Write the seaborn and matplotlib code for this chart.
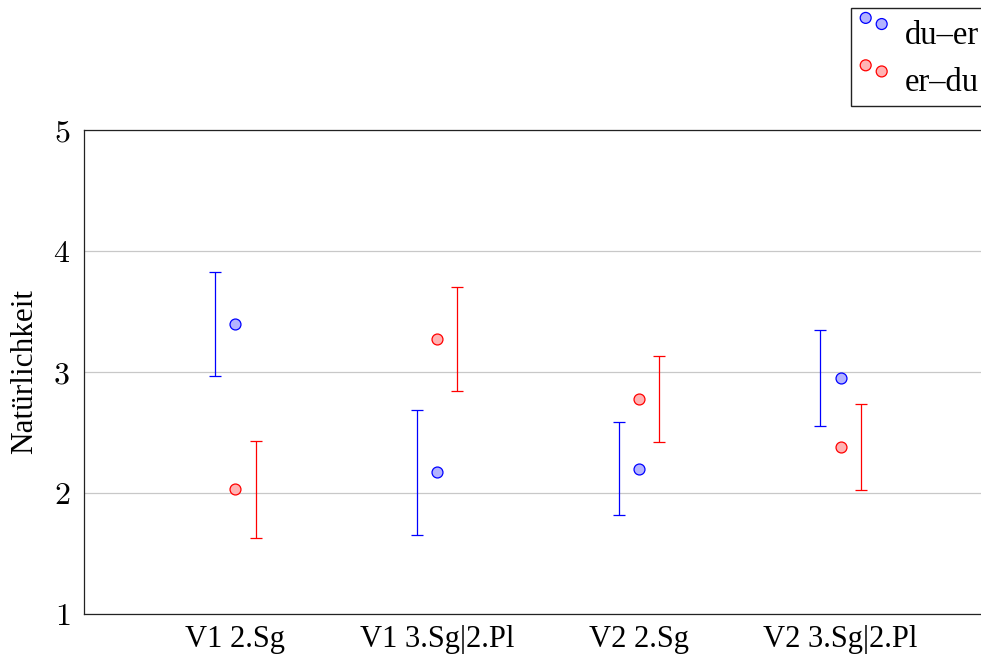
import numpy as np
import pandas as pd
import seaborn as sns
import matplotlib.pyplot as plt

# values
conditions = ["V1 2.Sg", "V1 3.Sg|2.Pl", "V2 2.Sg", "V2 3.Sg|2.Pl"]
du_er_mean = [3.40, 2.17, 2.20, 2.95]
du_er_err = [0.43, 0.52, 0.385, 0.40]
er_du_mean = [2.03, 3.27, 2.78, 2.38]
er_du_err = [0.40, 0.43, 0.355, 0.355]

sns.set_theme(style="white")
plt.rcParams['font.family'] = ['Liberation Serif', 'DejaVu Serif']
plt.rcParams['mathtext.fontset'] = 'cm'
plt.rcParams['text.color'] = 'black'
plt.rcParams['axes.labelcolor'] = 'black'
plt.rcParams['xtick.color'] = 'black'
plt.rcParams['ytick.color'] = 'black'

pos = np.arange(len(conditions))
df = pd.DataFrame({
    "pos": np.concatenate([pos, pos]),
    "mean": du_er_mean + er_du_mean,
    "err": du_er_err + er_du_err,
    "order": ["du–er"] * 4 + ["er–du"] * 4,
})

fig = plt.figure(figsize=(9.81, 6.7), dpi=100)
ax = fig.add_axes([84 / 981, 56 / 670, 908 / 981, 484 / 670])

styles = {
    "du–er": dict(edge="#0000ff", fill="#b3b3ff", shift=-0.1),
    "er–du": dict(edge="#ff0000", fill="#ffb3b3", shift=0.1),
}
for name, st in styles.items():
    sub = df[df["order"] == name]
    ax.errorbar(sub["pos"] + st["shift"], sub["mean"], yerr=sub["err"],
                fmt="none", ecolor=st["edge"], elinewidth=0.9,
                capsize=4.5, capthick=0.9, zorder=2)
    sns.scatterplot(data=sub, x="pos", y="mean", ax=ax, color=st["fill"],
                    edgecolor=st["edge"], linewidth=0.9, s=62, zorder=3,
                    legend=False)

ax.set_xlim(-0.75, 3.75)
ax.set_ylim(1, 5)
ax.set_xticks(pos)
ax.set_xticklabels(conditions, fontsize=22)
ax.set_yticks([1, 2, 3, 4, 5])
ax.set_yticklabels([f"${v}$" for v in [1, 2, 3, 4, 5]], fontsize=23)
ax.tick_params(axis="x", length=0, pad=8)
ax.tick_params(axis="y", direction="in", length=4, color="#888888", pad=10)
ax.set_xlabel("")
ax.set_ylabel("Natürlichkeit", fontsize=22.5, labelpad=10)
ax.grid(axis="y", color="#c8c8c8", linewidth=0.9)
for sp in ax.spines.values():
    sp.set_color("#222222")
    sp.set_linewidth(0.9)

h1 = ax.scatter([], [], s=62, color=styles["du–er"]["fill"],
                edgecolor=styles["du–er"]["edge"], linewidth=0.9)
h2 = ax.scatter([], [], s=62, color=styles["er–du"]["fill"],
                edgecolor=styles["er–du"]["edge"], linewidth=0.9)
fig.legend([h1, h2], ["du–er", "er–du"], loc="upper left",
           bbox_to_anchor=(851 / 981, 1 - 8 / 670), borderaxespad=0,
           fontsize=23.5, scatterpoints=2, scatteryoffsets=[0.64, 0.49],
           handlelength=1.09, handleheight=1.55, handletextpad=0.4,
           labelspacing=0.2, borderpad=0.15, fancybox=False, frameon=True,
           edgecolor="#222222", framealpha=1)

fig.savefig("out.png", dpi=100)
